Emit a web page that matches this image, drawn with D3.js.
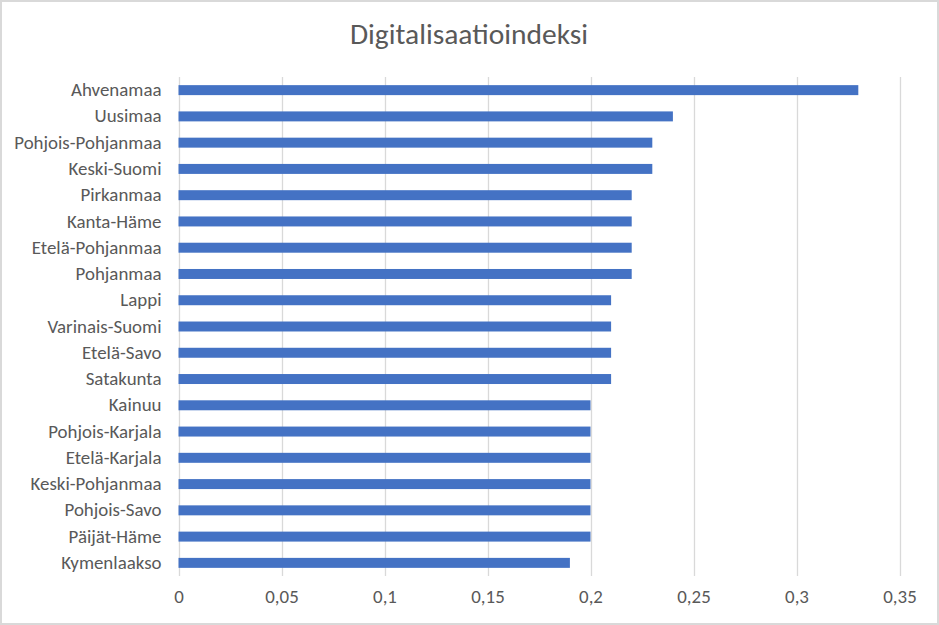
<!DOCTYPE html>
<html>
<head>
<meta charset="utf-8">
<script src="https://cdn.jsdelivr.net/npm/d3@7"></script>
<style>
  body { margin: 0; background: #fff; }
  svg { display: block; }
</style>
</head>
<body>
<svg id="chart" width="939" height="625"></svg>
<script>
// chart data
var regions = ['Ahvenamaa', 'Uusimaa', 'Pohjois-Pohjanmaa', 'Keski-Suomi', 'Pirkanmaa', 'Kanta-Häme',
  'Etelä-Pohjanmaa', 'Pohjanmaa', 'Lappi', 'Varinais-Suomi', 'Etelä-Savo', 'Satakunta', 'Kainuu',
  'Pohjois-Karjala', 'Etelä-Karjala', 'Keski-Pohjanmaa', 'Pohjois-Savo', 'Päijät-Häme', 'Kymenlaakso'];
var index_values = [0.33, 0.24, 0.23, 0.23, 0.22, 0.22, 0.22, 0.22, 0.21, 0.21, 0.21, 0.21, 0.2,
  0.2, 0.2, 0.2, 0.2, 0.2, 0.19];
var x_ticks = [0, 0.05, 0.1, 0.15, 0.2, 0.25, 0.3, 0.35];
var chart_title = 'Digitalisaatioindeksi';

var font = 'Calibri, Carlito, "Open Sans", sans-serif';
var text_color = '#595959';

var svg = d3.select('#chart');
var W = 939, H = 625;

// outer border
svg.append('rect')
  .attr('x', 1).attr('y', 1).attr('width', W - 2).attr('height', H - 2)
  .attr('fill', '#fff').attr('stroke', '#d9d9d9').attr('stroke-width', 2);

svg.append('text')
  .attr('x', 469).attr('y', 44)
  .attr('text-anchor', 'middle')
  .attr('font-family', font).attr('font-size', 29.5)
  .attr('fill', text_color)
  .text(chart_title);

var plot = { left: 178.5, right: 899.5, top: 77, bottom: 576 };

var x = d3.scaleLinear().domain([0, 0.35]).range([plot.left, plot.right]);
var y = d3.scaleBand().domain(regions).range([plot.top, plot.bottom]).paddingInner(0.62).paddingOuter(0.31);

// gridlines
svg.append('g').selectAll('line')
  .data(x_ticks).enter().append('line')
  .attr('x1', function(d) { return Math.round(x(d)) + 0.5; })
  .attr('x2', function(d) { return Math.round(x(d)) + 0.5; })
  .attr('y1', plot.top).attr('y2', plot.bottom)
  .attr('stroke', '#d9d9d9').attr('stroke-width', 1.3);

// bars
svg.append('g').selectAll('rect')
  .data(index_values).enter().append('rect')
  .attr('x', x(0))
  .attr('y', function(d, i) { return y(regions[i]); })
  .attr('width', function(d) { return x(d) - x(0); })
  .attr('height', y.bandwidth())
  .attr('fill', '#4472c4');

// category labels
var yAxis = d3.axisLeft(y).tickSize(0).tickPadding(17);
var gy = svg.append('g').attr('transform', 'translate(' + plot.left + ',0)').call(yAxis);
gy.select('.domain').remove();
gy.selectAll('text')
  .attr('font-family', font).attr('font-size', 18.9).attr('fill', text_color);

// value labels
var xAxis = d3.axisBottom(x).tickValues(x_ticks).tickSize(0).tickPadding(14)
  .tickFormat(function(d) { return String(d).replace('.', ','); });
var gx = svg.append('g').attr('transform', 'translate(0,' + plot.bottom + ')').call(xAxis);
gx.select('.domain').remove();
gx.selectAll('text')
  .attr('font-family', font).attr('font-size', 18.9).attr('fill', text_color);
</script>
</body>
</html>
